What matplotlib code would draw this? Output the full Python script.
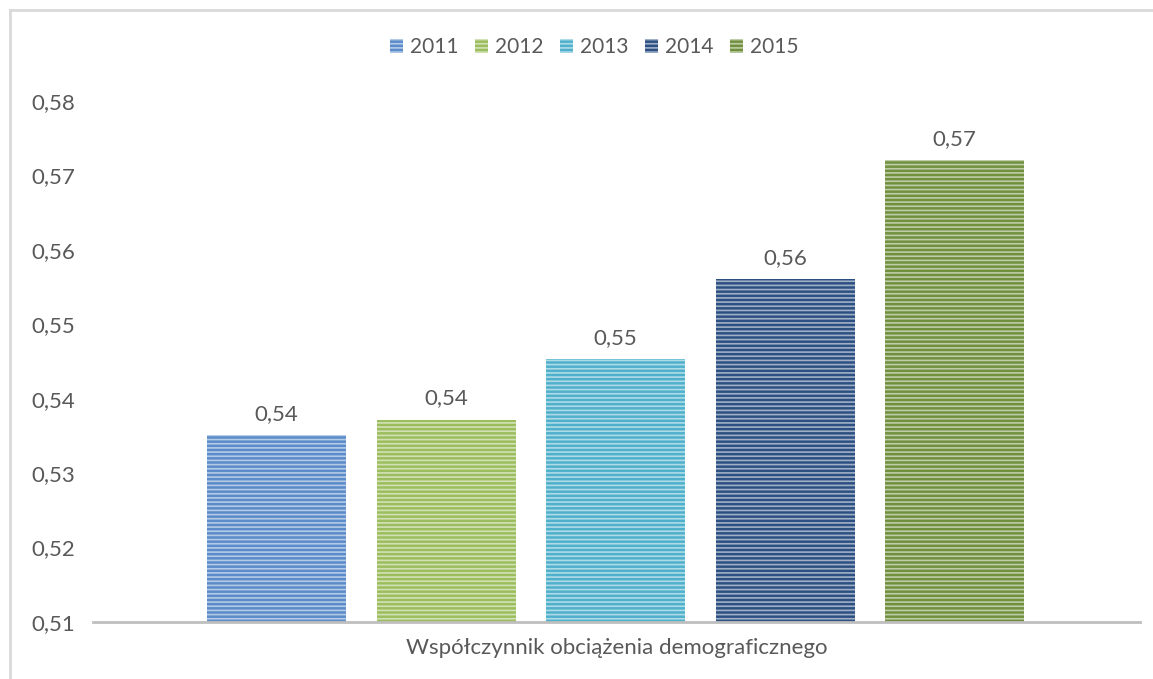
import numpy as np
import matplotlib.pyplot as plt
from matplotlib.lines import Line2D

# data
years = ['2011', '2012', '2013', '2014', '2015']
values = [0.5351, 0.5372, 0.5453, 0.5561, 0.5721]
colors = ['#5b8bc9', '#9cbd5d', '#4fb0cb', '#2d5082', '#71903d']
yticks = [0.51, 0.52, 0.53, 0.54, 0.55, 0.56, 0.57, 0.58]
category = 'Współczynnik obciążenia demograficznego'

plt.rcParams['font.family'] = ['Lato', 'DejaVu Sans']
plt.rcParams['hatch.linewidth'] = 1.2
txtcol = '#595959'
fs = 16

fig = plt.figure(figsize=(11.53, 6.79), dpi=100)
ax = fig.add_axes([93/1153, 1 - 622/679, (1140 - 93)/1153, (622 - 101)/679])

x = np.arange(len(years))
for i in range(len(years)):
    ax.bar(x[i], values[i] - 0.51, bottom=0.51, width=0.82, color=colors[i],
           edgecolor=(1, 1, 1, 0.55), linewidth=0, hatch='----', label=years[i])
    ax.text(x[i], values[i] + 0.0015, ('%.2f' % values[i]).replace('.', ','),
            ha='center', va='bottom', fontsize=fs, color=txtcol)

ax.set_xlim(-1.083, 5.094)
ax.set_ylim(0.51, 0.58)
ax.set_yticks(yticks)
ax.set_yticklabels([('%.2f' % v).replace('.', ',') for v in yticks], fontsize=fs, color=txtcol)
ax.tick_params(axis='y', length=0, pad=13)
ax.set_xticks([])
for s in ['top', 'right', 'left']:
    ax.spines[s].set_visible(False)
ax.spines['bottom'].set_color('#bfbfbf')
ax.spines['bottom'].set_linewidth(2)

ax.text(0.5, -0.03, category, transform=ax.transAxes, ha='center', va='top',
        fontsize=fs, color=txtcol)

handles = [plt.Rectangle((0, 0), 1, 1, color=c, hatch='----', ec=(1, 1, 1, 0.55), lw=0) for c in colors]
fig.legend(handles, years, loc='center', bbox_to_anchor=(594/1153, 1 - 47/679), ncol=5,
           frameon=False, fontsize=15, labelcolor=txtcol, handlelength=0.65, handleheight=0.65,
           handletextpad=0.3, columnspacing=0.8)

# outer frame
fig.add_artist(Line2D([10/1153, 10/1153], [0, 1 - 10/679], color='#d9d9d9', lw=2, transform=fig.transFigure))
fig.add_artist(Line2D([10/1153, 1], [1 - 10/679, 1 - 10/679], color='#d9d9d9', lw=2, transform=fig.transFigure))

fig.savefig('out.png', dpi=100)
